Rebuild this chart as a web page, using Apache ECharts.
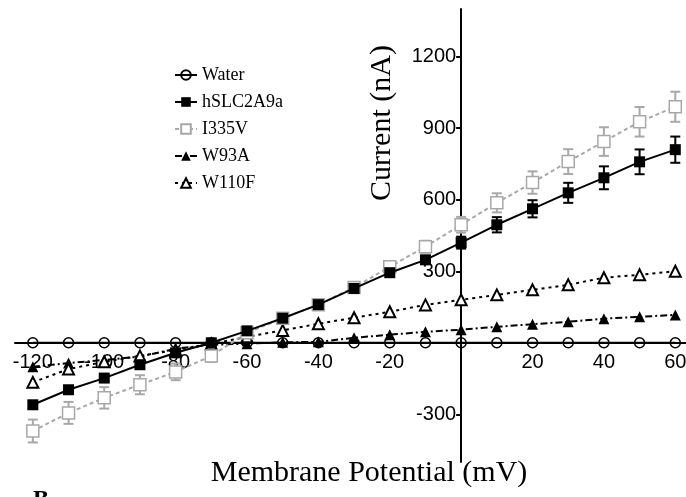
<!DOCTYPE html>
<html>
<head>
<meta charset="utf-8">
<script src="https://cdn.jsdelivr.net/npm/echarts@6/dist/echarts.min.js"></script>
<style>
  html, body { margin: 0; padding: 0; background: #fff; }
  #main { width: 686px; height: 497px; }
</style>
</head>
<body>
<div id="main"></div>
<script>
// membrane potential steps (mV)
var voltages = [-120, -110, -100, -90, -80, -70, -60, -50, -40, -30, -20, -10, 0, 10, 20, 30, 40, 50, 60];

// currents (nA)
var water    = [0, 0, 0, 0, 0, 0, 0, 0, 0, 0, 0, 0, 0, 0, 0, 0, 0, 0, 0];
var hslc     = [-260, -197, -148, -92, -42, 0, 50, 103, 160, 228, 294, 348, 420, 495, 562, 629, 692, 759, 810];
var hslcErr  = [15, 15, 12, 10, 10, 8, 8, 8, 10, 10, 12, 15, 25, 32, 36, 42, 48, 52, 55];
var i335v    = [-370, -294, -231, -176, -122, -55, 42, 103, 160, 232, 319, 403, 495, 587, 672, 760, 844, 927, 990];
var i335vErr = [48, 46, 45, 40, 35, 25, 15, 15, 15, 15, 20, 25, 33, 40, 47, 52, 60, 62, 63];
var w93a     = [-100, -85, -72, -58, -25, -8, -4, 2, 4, 21, 34, 46, 55, 67, 78, 88, 101, 109, 117];
var w110f    = [-166, -110, -80, -55, -30, -5, 25, 52, 80, 105, 130, 159, 180, 201, 222, 243, 273, 285, 300];

var xTicks = [-120, -100, -80, -60, -40, -20, 20, 40, 60];
var yTicks = [-300, 300, 600, 900, 1200];

var serif = "'Liberation Serif', 'DejaVu Serif', serif";
var sans = "'Liberation Sans', Arial, sans-serif";

function pairs(ys) {
  return voltages.map(function (x, i) { return [x, ys[i]]; });
}
function errData(ys, es) {
  return voltages.map(function (x, i) { return [x, ys[i] - es[i], ys[i] + es[i]]; });
}
function renderErr(params, api) {
  var x = api.value(0);
  var top = api.coord([x, api.value(2)]);
  var bot = api.coord([x, api.value(1)]);
  var c = api.visual('color');
  var w = 5;
  var st = { stroke: c, lineWidth: 2 };
  return {
    type: 'group',
    children: [
      { type: 'line', shape: { x1: top[0], y1: top[1], x2: bot[0], y2: bot[1] }, style: st },
      { type: 'line', shape: { x1: top[0] - w, y1: top[1], x2: top[0] + w, y2: top[1] }, style: st },
      { type: 'line', shape: { x1: bot[0] - w, y1: bot[1], x2: bot[0] + w, y2: bot[1] }, style: st }
    ]
  };
}

// grid: x -125..63 over 671px, y -500..1400 over 453px
var gridLeft = 15, gridTop = 9, gridBottom = 35;
var xMin = -125, xMax = 63, yMin = -500, yMax = 1400;
var plotW = 686 - gridLeft, plotH = 497 - gridTop - gridBottom;
// shift the axes so they cross at (0, 0)
var yAxisShift = -(0 - xMin) / (xMax - xMin) * plotW;
var xAxisShift = -(0 - yMin) / (yMax - yMin) * plotH;

var chart = echarts.init(document.getElementById('main'));
var option = {
  backgroundColor: '#fff',
  animation: false,
  grid: { left: gridLeft, right: 0, top: gridTop, bottom: gridBottom, outerBoundsMode: 'none', containLabel: false },
  legend: {
    orient: 'vertical',
    left: 169,
    top: 61,
    itemWidth: 22,
    itemHeight: 12,
    itemGap: 9,
    data: ['Water', 'hSLC2A9a', 'I335V', 'W93A', 'W110F'],
    textStyle: { fontFamily: serif, fontSize: 18, color: '#000' }
  },
  xAxis: {
    type: 'value',
    min: xMin,
    max: xMax,
    position: 'bottom',
    offset: xAxisShift,
    splitLine: { show: false },
    axisLine: { onZero: false, lineStyle: { color: '#000', width: 2 } },
    axisTick: { show: false },
    axisLabel: {
      customValues: xTicks,
      formatter: function (v) { return String(v); },
      fontFamily: sans,
      fontSize: 20,
      color: '#000',
      margin: 10
    }
  },
  yAxis: {
    type: 'value',
    min: yMin,
    max: yMax,
    position: 'left',
    offset: yAxisShift,
    splitLine: { show: false },
    axisLine: { onZero: false, lineStyle: { color: '#000', width: 2 } },
    axisTick: { customValues: yTicks, length: 5, lineStyle: { color: '#000', width: 2 } },
    axisLabel: {
      customValues: yTicks,
      formatter: function (v) { return String(v); },
      fontFamily: sans,
      fontSize: 20,
      color: '#000',
      margin: 5
    }
  },
  graphic: [
    {
      type: 'text', x: 369, y: 473,
      style: { text: 'Membrane Potential (mV)', font: '30px ' + serif, fill: '#000', textAlign: 'center', textVerticalAlign: 'middle' }
    },
    {
      type: 'text', x: 382, y: 123, rotation: Math.PI / 2,
      style: { text: 'Current (nA)', font: '30px ' + serif, fill: '#000', textAlign: 'center', textVerticalAlign: 'middle' }
    },
    {
      type: 'text', x: 33, y: 488,
      style: { text: 'B', font: 'bold 24px ' + serif, fill: '#000' }
    }
  ],
  series: [
    {
      type: 'custom', name: 'hSLC err', renderItem: renderErr, z: 1,
      itemStyle: { color: '#000' }, data: errData(hslc, hslcErr)
    },
    {
      type: 'custom', name: 'I335V err', renderItem: renderErr, z: 1,
      itemStyle: { color: '#a8a8a8' }, data: errData(i335v, i335vErr)
    },
    {
      name: 'Water', type: 'line', z: 3, data: pairs(water),
      symbol: 'circle', symbolSize: 10,
      lineStyle: { color: '#000', width: 2 },
      itemStyle: { color: 'rgba(0,0,0,0)', borderColor: '#000', borderWidth: 1.5 }
    },
    {
      name: 'W93A', type: 'line', z: 3, data: pairs(w93a),
      symbol: 'triangle', symbolSize: 11,
      lineStyle: { color: '#000', width: 2, type: [7, 3, 2, 3] },
      itemStyle: { color: '#000' }
    },
    {
      name: 'W110F', type: 'line', z: 3, data: pairs(w110f),
      symbol: 'triangle', symbolSize: 11,
      lineStyle: { color: '#000', width: 2, type: [3, 4] },
      itemStyle: { color: '#fff', borderColor: '#000', borderWidth: 2 }
    },
    {
      name: 'I335V', type: 'line', z: 4, data: pairs(i335v),
      symbol: 'rect', symbolSize: 12,
      lineStyle: { color: '#a8a8a8', width: 2, type: [4, 3] },
      itemStyle: { color: '#fff', borderColor: '#a8a8a8', borderWidth: 1.5 }
    },
    {
      name: 'hSLC2A9a', type: 'line', z: 5, data: pairs(hslc),
      symbol: 'rect', symbolSize: 11,
      lineStyle: { color: '#000', width: 2 },
      itemStyle: { color: '#000' }
    }
  ]
};
chart.setOption(option);
</script>
</body>
</html>
